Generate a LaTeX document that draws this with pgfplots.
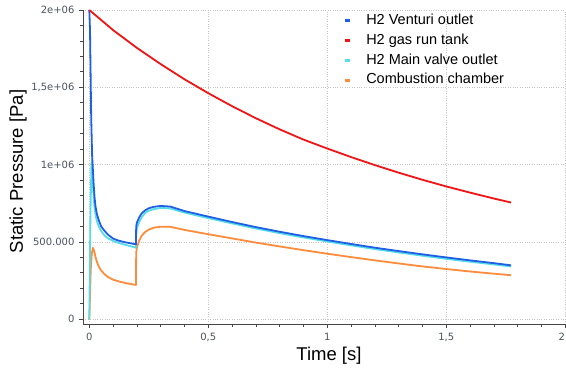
\documentclass[border=0pt]{standalone}
\usepackage{pgfplots}
\pgfplotsset{compat=1.18}
\usepackage{fontspec}
\setmainfont{Liberation Sans}
\newfontfamily\tickfont{DejaVu Sans}

\definecolor{venturi}{RGB}{30,95,230}
\definecolor{tank}{RGB}{240,20,20}
\definecolor{mainvalve}{RGB}{85,220,232}
\definecolor{chamber}{RGB}{255,140,60}
\definecolor{ticktext}{RGB}{75,82,95}
\definecolor{axisgray}{RGB}{70,70,70}
\definecolor{gridgray}{RGB}{196,196,196}

% time [s]  pressure [Pa]
\pgfplotstableread{
t p
0 2000000
0.1 1870000
0.2 1755000
0.3 1650000
0.4 1552000
0.5 1462000
0.6 1378000
0.7 1300000
0.8 1228000
0.9 1162000
1.0 1104000
1.1 1049000
1.2 997000
1.3 948000
1.4 902000
1.5 859000
1.6 819000
1.7 781000
1.772 755000
}\tanktable

\pgfplotstableread{
t p
0 2000000
0.003 1870000
0.008 1300000
0.012 1050000
0.014 1000000
0.018 880000
0.022 790000
0.026 730000
0.032 680000
0.04 640000
0.05 600000
0.065 570000
0.08 545000
0.1 522000
0.12 510000
0.15 498000
0.196 485000
0.197 600000
0.2 625000
0.21 660000
0.22 685000
0.235 705000
0.25 718000
0.27 727000
0.3 733000
0.34 729000
0.4 700000
0.5 664000
0.6 629000
0.7 596000
0.8 566000
0.9 538000
1.0 512000
1.1 487000
1.2 463000
1.3 441000
1.4 420000
1.5 400000
1.6 381000
1.7 363000
1.772 349000
}\venturitable

\pgfplotstableread{
t p
0 0
0.002 300000
0.005 700000
0.009 1000000
0.011 1020000
0.014 900000
0.018 800000
0.022 720000
0.027 670000
0.033 630000
0.04 600000
0.05 570000
0.065 540000
0.08 522000
0.1 507000
0.12 495000
0.15 482000
0.196 463000
0.197 560000
0.2 590000
0.21 630000
0.22 660000
0.235 688000
0.25 702000
0.27 712000
0.3 720000
0.34 717000
0.4 690000
0.5 654000
0.6 620000
0.7 587000
0.8 557000
0.9 529000
1.0 503000
1.1 478000
1.2 454000
1.3 432000
1.4 411000
1.5 391000
1.6 372000
1.7 355000
1.772 341000
}\valvetable

\pgfplotstableread{
t p
0 0
0.003 150000
0.006 320000
0.01 420000
0.015 462000
0.02 445000
0.025 410000
0.03 380000
0.04 340000
0.05 315000
0.065 290000
0.08 272000
0.1 256000
0.13 242000
0.16 232000
0.196 222000
0.197 430000
0.2 465000
0.21 510000
0.22 540000
0.235 565000
0.25 580000
0.27 592000
0.3 599000
0.34 598000
0.4 578000
0.5 550000
0.6 523000
0.7 496000
0.8 471000
0.9 447000
1.0 424000
1.1 402000
1.2 381000
1.3 361000
1.4 342000
1.5 325000
1.6 309000
1.7 295000
1.772 285000
}\chambertable

\begin{document}
\begin{tikzpicture}
\begin{axis}[
  scale only axis,
  width=482.3pt, height=314pt,
  xmin=-0.0265, xmax=2,
  ymin=-30400, ymax=2000000,
  axis lines*=left,
  axis line style={axisgray, line width=0.9pt},
  tick align=outside,
  major tick length=4pt, minor tick length=3pt,
  tick style={axisgray, line width=0.8pt},
  xtick={0,0.5,1,1.5,2},
  xticklabels={0,{0,5},1,{1,5},{\hspace*{-7pt}2}},
  ytick={0,500000,1000000,1500000,2000000},
  yticklabels={0,500.000,1e+06,{1,5e+06},2e+06},
  scaled y ticks=false, scaled x ticks=false,
  minor x tick num=4, minor y tick num=4,
  grid=major,
  major grid style={gridgray, dotted, line width=0.7pt},
  ticklabel style={font=\tickfont\fontsize{10}{12}\selectfont, text=ticktext},
  xticklabel style={yshift=-2pt},
  yticklabel style={xshift=-1pt},
  xlabel={Time [s]},
  ylabel={Static Pressure [Pa]},
  label style={font=\fontsize{18.5}{20}\selectfont},
  xlabel style={at={(axis description cs:0.51,0)}, anchor=center, yshift=-31.8pt},
  ylabel style={at={(axis description cs:0,0.486)}, anchor=center, yshift=65pt},
  legend style={at={(axis description cs:0.533,0.994)}, anchor=north west,
    draw=none, fill=none, font=\fontsize{14.5}{16}\selectfont,
    nodes={inner sep=0pt, text height=10.5pt, text depth=3pt},
    row sep=6.3pt, column sep=15pt},
  legend cell align=left,
  legend image code/.code={\draw[#1, line width=3pt] (0pt,0pt) -- (5pt,0pt);},
  clip=false,
  every axis plot/.append style={line width=1.8pt, line join=round},
]
\addlegendimage{venturi}
\addlegendentry{H2 Venturi outlet}
\addlegendimage{tank}
\addlegendentry{H2 gas run tank}
\addlegendimage{mainvalve}
\addlegendentry{H2 Main valve outlet}
\addlegendimage{chamber}
\addlegendentry{Combustion chamber}

\addplot[chamber, forget plot] table[x=t, y=p] {\chambertable};
\addplot[mainvalve, forget plot] table[x=t, y=p] {\valvetable};
\addplot[venturi, forget plot] table[x=t, y=p] {\venturitable};
\addplot[tank, forget plot] table[x=t, y=p] {\tanktable};
\end{axis}
\pgfresetboundingbox
\path[use as bounding box] (-83pt,-50pt) rectangle (483pt,324pt);
\end{tikzpicture}
\end{document}
